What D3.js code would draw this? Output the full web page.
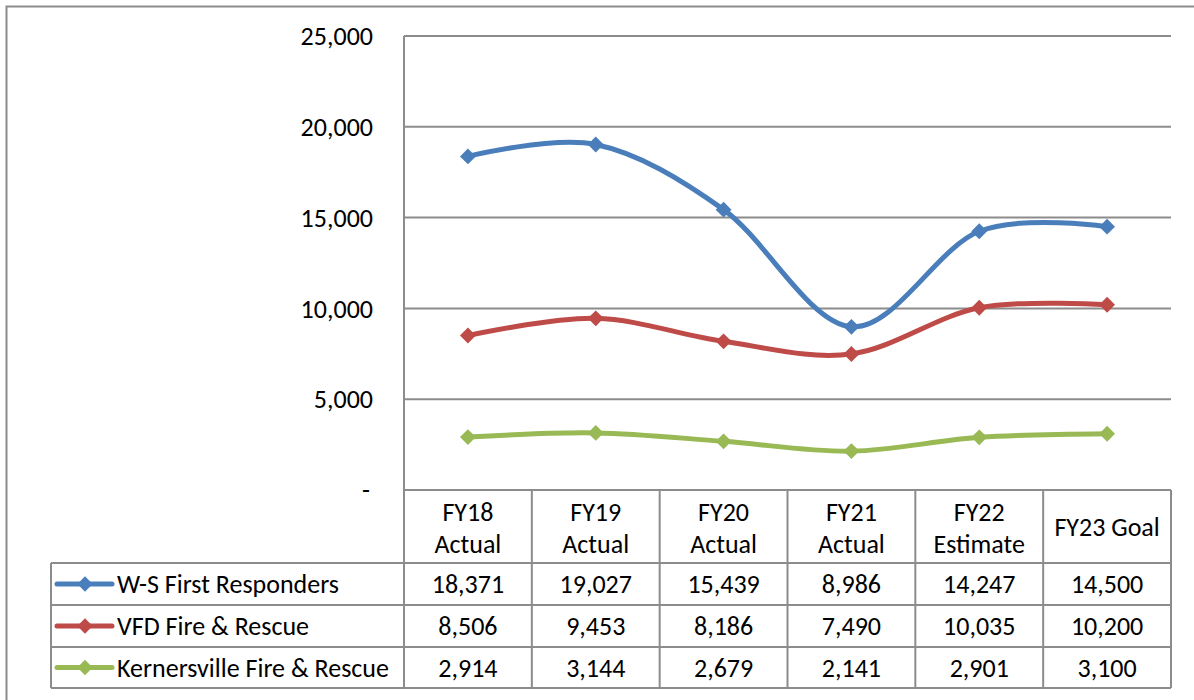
<!DOCTYPE html>
<html><head><meta charset="utf-8">
<script src="https://cdn.jsdelivr.net/npm/d3@7"></script>
<style>body{margin:0;background:#fff}svg{display:block}text{font-family:Carlito,Lato,"Open Sans",sans-serif;fill:#000}</style>
</head><body><svg id="c" width="1194" height="700"></svg>
<script>
const categories = [["FY18","Actual"],["FY19","Actual"],["FY20","Actual"],["FY21","Actual"],["FY22","Estimate"],["FY23 Goal"]];
const seriesNames = ["W-S First Responders","VFD Fire & Rescue","Kernersville Fire & Rescue"];
const seriesColors = ["#4A7EBB","#BE4B48","#98B954"];
const wsValues = [18371,19027,15439,8986,14247,14500];
const vfdValues = [8506,9453,8186,7490,10035,10200];
const kernValues = [2914,3144,2679,2141,2901,3100];
const yTicks = [0,5000,10000,15000,20000,25000];
const allSeries = [wsValues, vfdValues, kernValues];

const svg = d3.select("#c");
const L = 404, R = 1171, T = 36, B = 490;
const rowH = [73,42,42,41];
const FS = 26;
const x = d3.scaleBand().domain(d3.range(categories.length)).range([L,R]);
const y = d3.scaleLinear().domain([0,25000]).range([B,T]);
const fmt = d3.format(",");
const grey = "#8c8c8c";
const diamondType = d3.symbolDiamond2 || d3.symbolDiamond;

svg.append("path").attr("d","M6.5,700 V6.5 H1194").attr("fill","none").attr("stroke",grey).attr("stroke-width",2);

svg.append("g").selectAll("line").data(yTicks).join("line")
  .attr("x1",L).attr("x2",R).attr("y1",d=>y(d)).attr("y2",d=>y(d))
  .attr("stroke",grey).attr("stroke-width",2);
svg.append("line").attr("x1",L).attr("x2",L).attr("y1",T).attr("y2",B).attr("stroke",grey).attr("stroke-width",2);

svg.append("g").selectAll("text").data(yTicks).join("text")
  .attr("x",d=>d===0?370:373).attr("y",d=>y(d)).attr("dy","0.35em")
  .attr("text-anchor","end").attr("font-size",FS)
  .text(d=>d===0?"-":fmt(d));

const rowsY = [B];
rowH.forEach((h,i)=>rowsY.push(rowsY[i]+h));
const tg = svg.append("g");
rowsY.forEach((ry,i)=>{
  tg.append("line").attr("x1",i===0?L:51).attr("x2",R).attr("y1",ry).attr("y2",ry)
    .attr("stroke",grey).attr("stroke-width",2);
});
d3.range(categories.length+1).forEach(i=>{
  const xx = i<categories.length ? x(i) : R;
  tg.append("line").attr("x1",xx).attr("x2",xx).attr("y1",B).attr("y2",rowsY[4]).attr("stroke",grey).attr("stroke-width",2);
});
tg.append("line").attr("x1",51).attr("x2",51).attr("y1",rowsY[1]).attr("y2",rowsY[4]).attr("stroke",grey).attr("stroke-width",2);

categories.forEach((c,i)=>{
  const cx = x(i)+x.bandwidth()/2;
  if(c.length===2){
    tg.append("text").attr("x",cx).attr("y",512).attr("dy","0.35em").attr("text-anchor","middle").attr("font-size",FS).text(c[0]);
    tg.append("text").attr("x",cx).attr("y",544).attr("dy","0.35em").attr("text-anchor","middle").attr("font-size",FS).text(c[1]);
  } else {
    tg.append("text").attr("x",cx).attr("y",527).attr("dy","0.35em").attr("text-anchor","middle").attr("font-size",FS).text(c[0]);
  }
});
allSeries.forEach((vals,si)=>{
  const cy = (rowsY[si+1]+rowsY[si+2])/2;
  vals.forEach((v,i)=>{
    tg.append("text").attr("x",x(i)+x.bandwidth()/2).attr("y",cy).attr("dy","0.35em").attr("text-anchor","middle").attr("font-size",FS).text(fmt(v));
  });
  tg.append("line").attr("x1",57).attr("x2",112).attr("y1",cy).attr("y2",cy).attr("stroke",seriesColors[si]).attr("stroke-width",5).attr("stroke-linecap","round");
  tg.append("path").attr("d",d3.symbol().type(diamondType).size(150)()).attr("transform",`translate(85,${cy})`).attr("fill",seriesColors[si]);
  tg.append("text").attr("x",117).attr("y",cy).attr("dy","0.35em").attr("font-size",FS).text(seriesNames[si]);
});

const line = d3.line().x((d,i)=>x(i)+x.bandwidth()/2).y(d=>y(d)).curve(d3.curveCardinal.tension(0));
allSeries.forEach((vals,si)=>{
  svg.append("path").attr("d",line(vals)).attr("fill","none").attr("stroke",seriesColors[si]).attr("stroke-width",5).attr("stroke-linejoin","round");
  svg.append("g").selectAll("path").data(vals).join("path")
    .attr("d",d3.symbol().type(diamondType).size(160)())
    .attr("transform",(d,i)=>`translate(${x(i)+x.bandwidth()/2},${y(d)})`)
    .attr("fill",seriesColors[si]);
});
</script></body></html>
